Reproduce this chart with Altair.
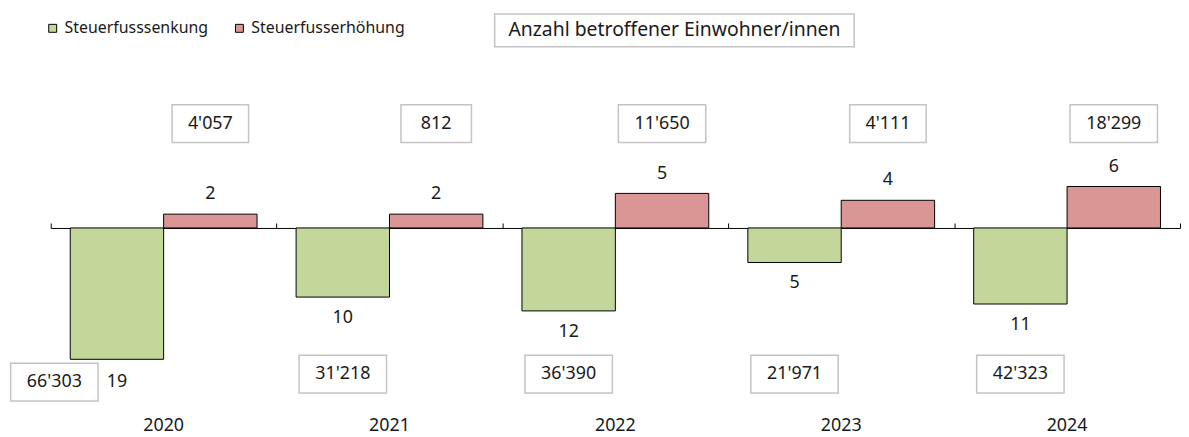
import altair as alt
import pandas as pd

# ---------------- data ----------------
years = ["2020", "2021", "2022", "2023", "2024"]
senkung = [19, 10, 12, 5, 11]                 # Steuerfusssenkung (drawn downward)
erhoehung = [2, 2, 5, 4, 6]                   # Steuerfusserhöhung (drawn upward)
pop_senkung = [66303, 31218, 36390, 21971, 42323]
pop_erhoehung = [4057, 812, 11650, 4111, 18299]
series = ["Steuerfusssenkung", "Steuerfusserhöhung"]
colors = ["#C4D79B", "#DA9694"]
box_label = "Anzahl betroffener Einwohner/innen"

rows = []
for i, yr in enumerate(years):
    rows.append({"year": yr, "series": series[0], "count": senkung[i],
                 "value": -senkung[i], "pop": pop_senkung[i]})
    rows.append({"year": yr, "series": series[1], "count": erhoehung[i],
                 "value": erhoehung[i], "pop": pop_erhoehung[i]})
df = pd.DataFrame(rows)

# ---------------- layout / style ----------------
FONT = "Noto Sans"
TXT = "#1a1a1a"
W, H = 1137, 348
YMIN, YMAX = -25, 25
ZERO_OFF = -H * YMAX / (YMAX - YMIN)   # move top axis down to the zero line
BOX_STROKE = "#c4c4c4"
UNIT = 44.0                              # px per path unit for boxes
SIZE = (2 * UNIT) ** 2
HH = 19 / UNIT


def rect_path(halfw, halfh, shift=0.0, yshift=0.0):
    l, r = shift - halfw, shift + halfw
    t, b = yshift - halfh, yshift + halfh
    return f"M{l:.3f},{t:.3f}L{r:.3f},{t:.3f}L{r:.3f},{b:.3f}L{l:.3f},{b:.3f}Z"


box_paths = [rect_path(35.5 / UNIT, HH), rect_path(38.5 / UNIT, HH), rect_path(44 / UNIT, HH)]
box_dom = [3, 5, 6]

xsc = alt.Scale(domain=years, paddingInner=0.173, paddingOuter=0.0865)
xoff = alt.XOffset("series:N", scale=alt.Scale(domain=series, paddingInner=0, paddingOuter=0))
ysc = alt.Scale(domain=[YMIN, YMAX], nice=False, zero=False)
X0 = alt.X("year:N", scale=xsc, axis=None)

base = alt.Chart(df)

# zero line with ticks at the category boundaries
tick_df = pd.DataFrame({"year": years})
axis_line = alt.Chart(tick_df).mark_point(opacity=0).encode(
    x=alt.X("year:N", scale=alt.Scale(domain=years, paddingInner=0, paddingOuter=0), title=None,
            axis=alt.Axis(orient="top", offset=ZERO_OFF, domain=True, domainColor="black",
                          domainWidth=1, ticks=True, tickBand="extent", tickSize=5,
                          tickColor="black", tickWidth=1, labels=False, grid=False)),
)

bars = base.mark_bar(stroke="black", strokeWidth=1).encode(
    x=alt.X("year:N", scale=xsc, title=None,
            axis=alt.Axis(orient="bottom", domain=False, ticks=False, tickSize=0,
                          labelAngle=0, labelFont=FONT, labelFontSize=18,
                          labelColor=TXT, labelPadding=16, grid=False)),
    xOffset=xoff,
    y=alt.Y("value:Q", scale=ysc, axis=None),
    color=alt.Color("series:N", scale=alt.Scale(domain=series, range=colors),
                    legend=alt.Legend(orient="none", legendX=-6, legendY=-35,
                                      direction="horizontal", title=None,
                                      symbolType="square", symbolSize=64,
                                      symbolStrokeColor="black", symbolStrokeWidth=1,
                                      labelFont=FONT, labelFontSize=16, labelColor=TXT,
                                      labelOffset=4, columnPadding=23, padding=0)),
)

first_year = years[0]

lab_neg = base.transform_filter((alt.datum.value < 0) & (alt.datum.year != first_year)).mark_text(
    dy=21, baseline="middle", font=FONT, fontSize=18, color=TXT
).encode(x=X0, xOffset=xoff, y=alt.Y("value:Q", scale=ysc, axis=None), text="count:Q")

lab_neg_first = base.transform_filter((alt.datum.value < 0) & (alt.datum.year == first_year)).mark_text(
    dy=23, baseline="middle", font=FONT, fontSize=18, color=TXT
).encode(x=X0, xOffset=xoff, y=alt.Y("value:Q", scale=ysc, axis=None), text="count:Q")

lab_pos = base.transform_filter(alt.datum.value > 0).mark_text(
    dy=-20, baseline="middle", font=FONT, fontSize=18, color=TXT
).encode(x=X0, xOffset=xoff, y=alt.Y("value:Q", scale=ysc, axis=None), text="count:Q")

popfmt = base.transform_calculate(
    plabel="replace(format(datum.pop, ','), ',', \"'\")"
).transform_calculate(nchar="length(datum.plabel)")

top_y = alt.datum(15.1)
bot_y = alt.datum(-21.15)
box_mark = dict(filled=True, fill="white", stroke=BOX_STROKE, strokeWidth=1.5, opacity=1)
shape_enc = alt.Shape("nchar:O", scale=alt.Scale(domain=box_dom, range=box_paths), legend=None)

pos_pop = popfmt.transform_filter(alt.datum.value > 0)
box_top = pos_pop.mark_point(size=SIZE, **box_mark).encode(
    x=X0, xOffset=xoff, y=top_y, shape=shape_enc)
txt_top = pos_pop.mark_text(baseline="middle", font=FONT, fontSize=18, color=TXT).encode(
    x=X0, xOffset=xoff, y=top_y, text="plabel:N")

neg_rest = popfmt.transform_filter((alt.datum.value < 0) & (alt.datum.year != first_year))
box_bot = neg_rest.mark_point(size=SIZE, **box_mark).encode(
    x=X0, xOffset=xoff, y=bot_y, shape=shape_enc)
txt_bot = neg_rest.mark_text(baseline="middle", font=FONT, fontSize=18, color=TXT).encode(
    x=X0, xOffset=xoff, y=bot_y, text="plabel:N")

# the first year's box sits left of and slightly lower than its bar (label clash avoidance)
SHIFT_X, SHIFT_Y = -63, 8
neg_first = popfmt.transform_filter((alt.datum.value < 0) & (alt.datum.year == first_year))
box_first = neg_first.mark_point(
    size=SIZE, shape=rect_path(44 / UNIT, HH, SHIFT_X / UNIT, SHIFT_Y / UNIT), **box_mark
).encode(x=X0, xOffset=xoff, y=bot_y)
txt_first = neg_first.mark_text(baseline="middle", font=FONT, fontSize=18, color=TXT,
                                dx=SHIFT_X, dy=SHIFT_Y).encode(
    x=X0, xOffset=xoff, y=bot_y, text="plabel:N")

# "Anzahl betroffener Einwohner/innen" key box
key_df = pd.DataFrame({"label": [box_label]})
KU = 181.0
key_box = alt.Chart(key_df).mark_point(
    size=(2 * KU) ** 2, shape=rect_path(1.0, 16.5 / KU), **box_mark
).encode(x=alt.value(628), y=alt.value(-25))
key_txt = alt.Chart(key_df).mark_text(
    baseline="middle", font=FONT, fontSize=19.5, color=TXT
).encode(x=alt.value(628), y=alt.value(-25), text="label:N")

chart = alt.layer(
    axis_line, bars, lab_neg, lab_neg_first, lab_pos, box_top, txt_top, box_bot, txt_bot,
    box_first, txt_first, key_box, key_txt
).resolve_scale(x="independent", shape="independent").resolve_axis(x="independent").properties(
    width=W, height=H, autosize=alt.AutoSizeParams(type="none"),
    padding={"left": 43, "top": 46, "right": 1, "bottom": 35},
    background="white",
).configure_view(strokeWidth=0)

chart.save("out.html", embed_options={"renderer": "svg", "actions": False})
